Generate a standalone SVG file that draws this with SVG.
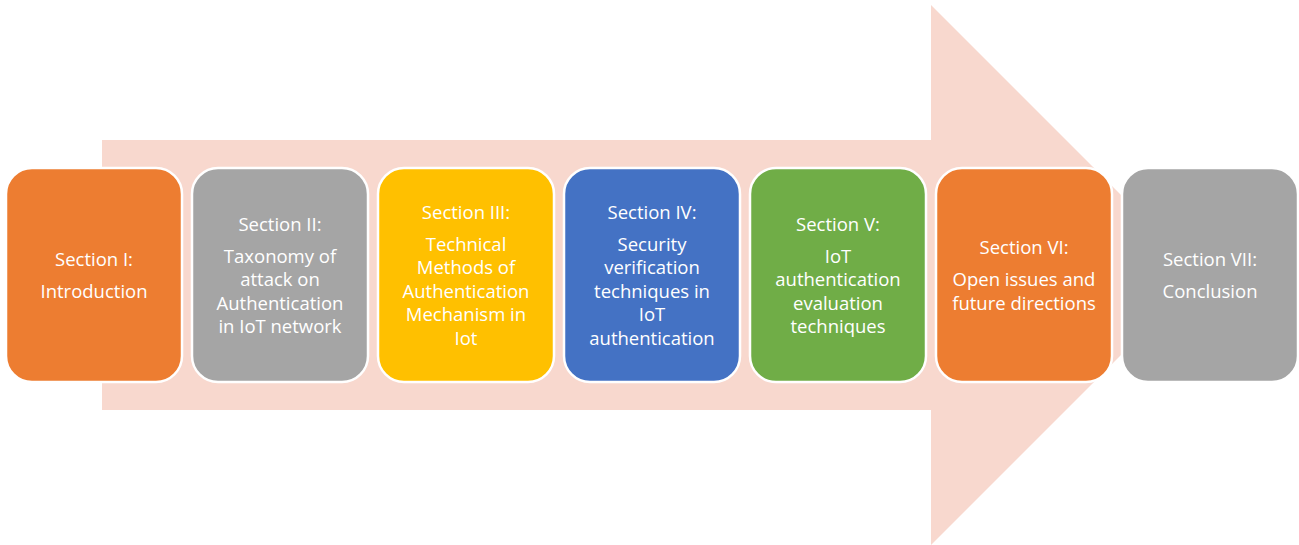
<svg xmlns="http://www.w3.org/2000/svg" width="1299" height="545" viewBox="0 0 1299 545">
  <style>
    .box { stroke: #ffffff; stroke-width: 2.5; }
    .orange { fill: #ED7D31; }
    .gray { fill: #A5A5A5; }
    .yellow { fill: #FFC000; }
    .blue { fill: #4472C4; }
    .green { fill: #70AD47; }
    text { font-family: "Open Sans", "Liberation Sans", sans-serif; font-size: 18.5px; fill: #ffffff; text-anchor: middle; }
  </style>

  <!-- background block arrow -->
  <g id="arrow">
    <polygon points="102,140 931,140 931,5 1201,275 931,545 931,410 102,410" fill="#F8D8CE"/>
  </g>

  <g id="section1">
    <rect class="box orange" x="6" y="168" width="176" height="214" rx="26"/>
    <text x="94" y="265.5">Section I:</text>
    <text x="94" y="297.5">Introduction</text>
  </g>

  <g id="section2">
    <rect class="box gray" x="192" y="168" width="176" height="214" rx="26"/>
    <text x="280" y="230.5">Section II:</text>
    <text x="280" y="262.5">Taxonomy of</text>
    <text x="280" y="286">attack on</text>
    <text x="280" y="309.5">Authentication</text>
    <text x="280" y="333">in IoT network</text>
  </g>

  <g id="section3">
    <rect class="box yellow" x="378" y="168" width="176" height="214" rx="26"/>
    <text x="466" y="218.5">Section III:</text>
    <text x="466" y="250.5">Technical</text>
    <text x="466" y="274">Methods of</text>
    <text x="466" y="297.5">Authentication</text>
    <text x="466" y="321">Mechanism in</text>
    <text x="466" y="344.5">Iot</text>
  </g>

  <g id="section4">
    <rect class="box blue" x="564" y="168" width="176" height="214" rx="26"/>
    <text x="652" y="218.5">Section IV:</text>
    <text x="652" y="250.5">Security</text>
    <text x="652" y="274">verification</text>
    <text x="652" y="297.5">techniques in</text>
    <text x="652" y="321">IoT</text>
    <text x="652" y="344.5">authentication</text>
  </g>

  <g id="section5">
    <rect class="box green" x="750" y="168" width="176" height="214" rx="26"/>
    <text x="838" y="230.5">Section V:</text>
    <text x="838" y="262.5">IoT</text>
    <text x="838" y="286">authentication</text>
    <text x="838" y="309.5">evaluation</text>
    <text x="838" y="333">techniques</text>
  </g>

  <g id="section6">
    <rect class="box orange" x="936" y="168" width="176" height="214" rx="26"/>
    <text x="1024" y="253.5">Section VI:</text>
    <text x="1024" y="286">Open issues and</text>
    <text x="1024" y="309.5">future directions</text>
  </g>

  <g id="section7">
    <rect class="box gray" x="1122" y="168" width="176" height="214" rx="26"/>
    <text x="1210" y="265.5">Section VII:</text>
    <text x="1210" y="297.5">Conclusion</text>
  </g>

  <g id="connectors"></g>
</svg>
